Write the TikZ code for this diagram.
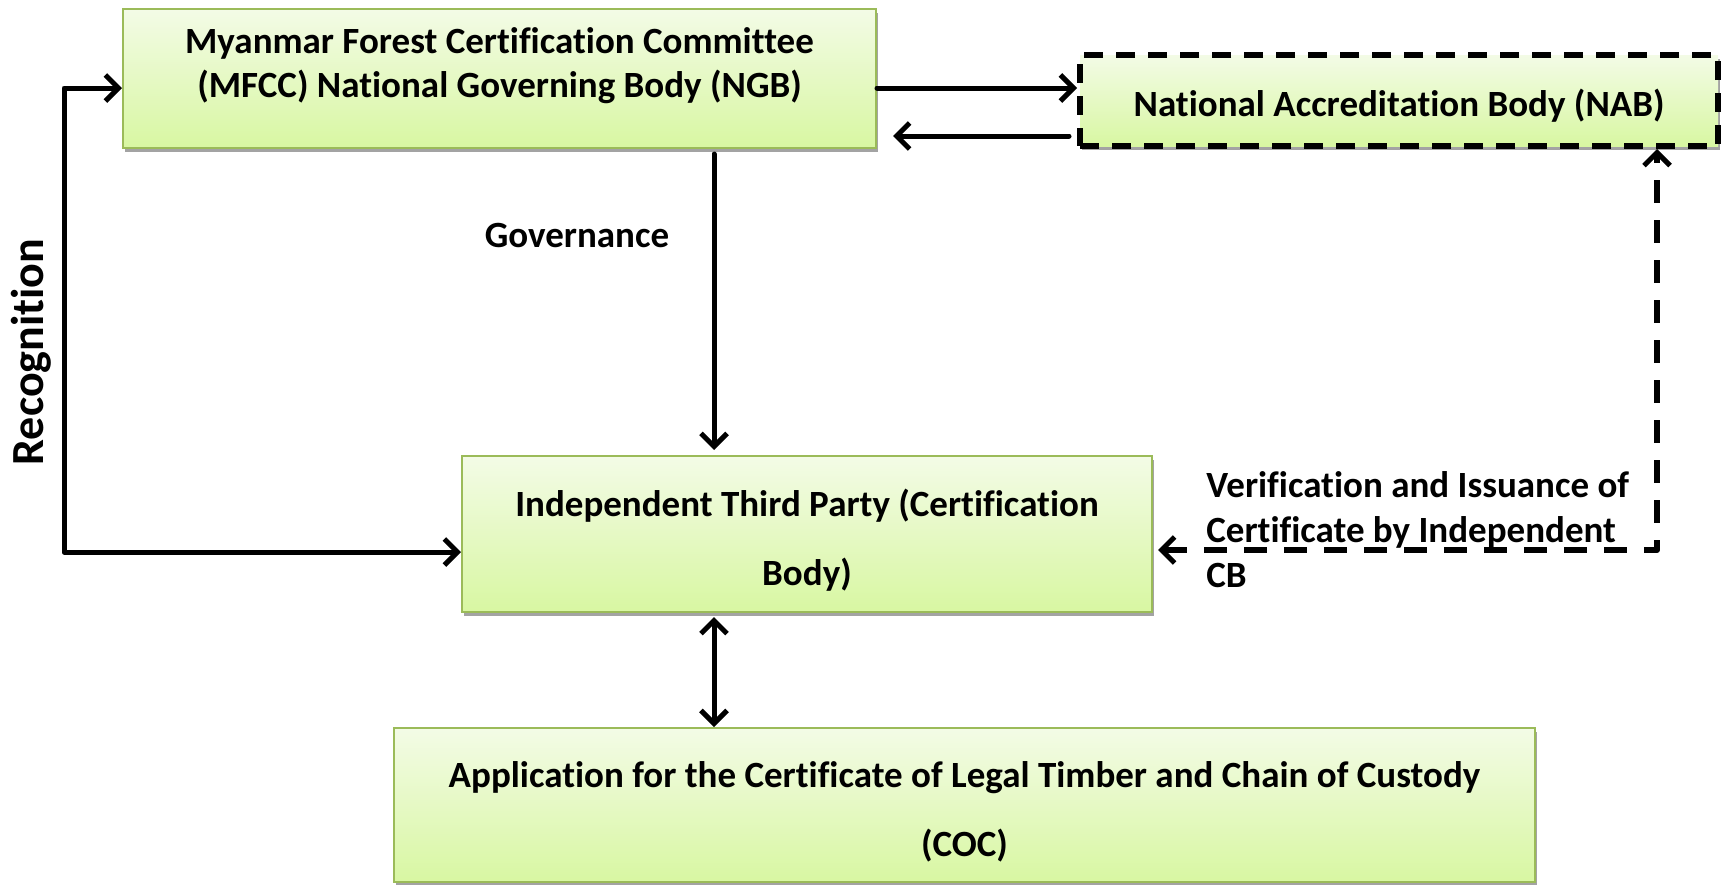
\documentclass[tikz,border=0pt]{standalone}
\usepackage{fontspec}
\setmainfont{Carlito}[Ligatures=NoCommon]
\usetikzlibrary{arrows.meta,shadows}

\definecolor{boxtop}{HTML}{F3FBE6}
\definecolor{boxbot}{HTML}{D8F7A2}
\definecolor{boxedge}{HTML}{9BBB59}
\definecolor{shadowgray}{HTML}{A3A3A3}

\tikzset{barb/.tip={Straight Barb[length=6.5pt, width=13pt, line width=2.5pt]}}

\begin{document}
\begin{tikzpicture}[x=0.5pt,y=-0.5pt,
  box/.style={rectangle, inner sep=0pt, line width=1pt, draw=boxedge,
    top color=boxtop, bottom color=boxbot,
    drop shadow={shadow xshift=1.2pt, shadow yshift=-2pt, fill=shadowgray, opacity=1}},
  dashbox/.style={box, draw=black, line width=3pt, dash pattern=on 9.5pt off 6.5pt},
  txt/.style={font=\fontsize{18.5}{22}\selectfont\bfseries, align=center, inner sep=0pt},
  widetxt/.style={font=\fontsize{18.5}{34.5}\selectfont\bfseries, align=center, inner sep=0pt},
  conn/.style={line width=2.5pt, line cap=round, line join=round},
  dconn/.style={conn, line width=3pt, dash pattern=on 11.5pt off 8.5pt, line cap=butt}
]
  \useasboundingbox (0,0) rectangle (1724,884);

  % boxes
  \node[box, minimum width=376.5pt, minimum height=69.5pt] (mfcc) at (499.5,78.5) {};
  \node[dashbox, minimum width=319pt, minimum height=45.5pt] (nab) at (1399,100.5) {};
  \node[box, minimum width=345pt, minimum height=78pt] (mid) at (807,534) {};
  \node[box, minimum width=570.5pt, minimum height=77pt] (bot) at (964.5,805) {};

  % box texts
  \node[txt] (mfcct) at (499.5,66) {Myanmar Forest Certification Committee\\(MFCC) National Governing Body (NGB)};
  \node[txt] (nabt) at (1399,106) {National Accreditation Body (NAB)};
  \node[widetxt] (midt) at (807,540) {Independent Third Party (Certification\\Body)};
  \node[widetxt] (bott) at (964.5,812) {Application for the Certificate of Legal Timber and Chain of Custody\\(COC)};

  % labels
  \node[txt] (gov) at (577,235) {Governance};
  \node[font=\fontsize{23}{26}\selectfont\bfseries, rotate=90, inner sep=0pt] (rec) at (31,352) {Recognition};
  \node[font=\fontsize{18.5}{22.5}\selectfont\bfseries, align=left, anchor=west, inner sep=0pt] (ver) at (1206,530)
    {Verification and Issuance of\\Certificate by Independent\\CB};

  % bend points
  \coordinate (rtop) at (64,88);
  \coordinate (rbot) at (64,552);
  \coordinate (back) at (893,136);
  \coordinate (dcor) at (1657,550);

  % connectors
  \draw[conn, arrows={-barb}] (mfcc.east |- 0,88) -- (nab.west |- 0,88);
  \draw[conn, arrows={-barb}] (nab.west |- 0,136) ++(-8,0) -- (back);
  \draw[conn, arrows={barb-barb}] (mfcc.west |- rtop) -- (rtop) -- (rbot) -- (mid.west |- rbot);
  \draw[conn, arrows={-barb}, shorten <=2.5pt, shorten >=2.5pt] (714,0 |- mfcc.south) -- (714,0 |- mid.north);
  \draw[conn, arrows={barb-barb}, shorten <=2pt] (714,0 |- mid.south) -- (714,0 |- bot.north);
  \draw[dconn, arrows={barb-barb}, shorten <=2.5pt] (mid.east |- dcor) -- (dcor) -- (1657,0 |- nab.south);
\end{tikzpicture}
\end{document}
